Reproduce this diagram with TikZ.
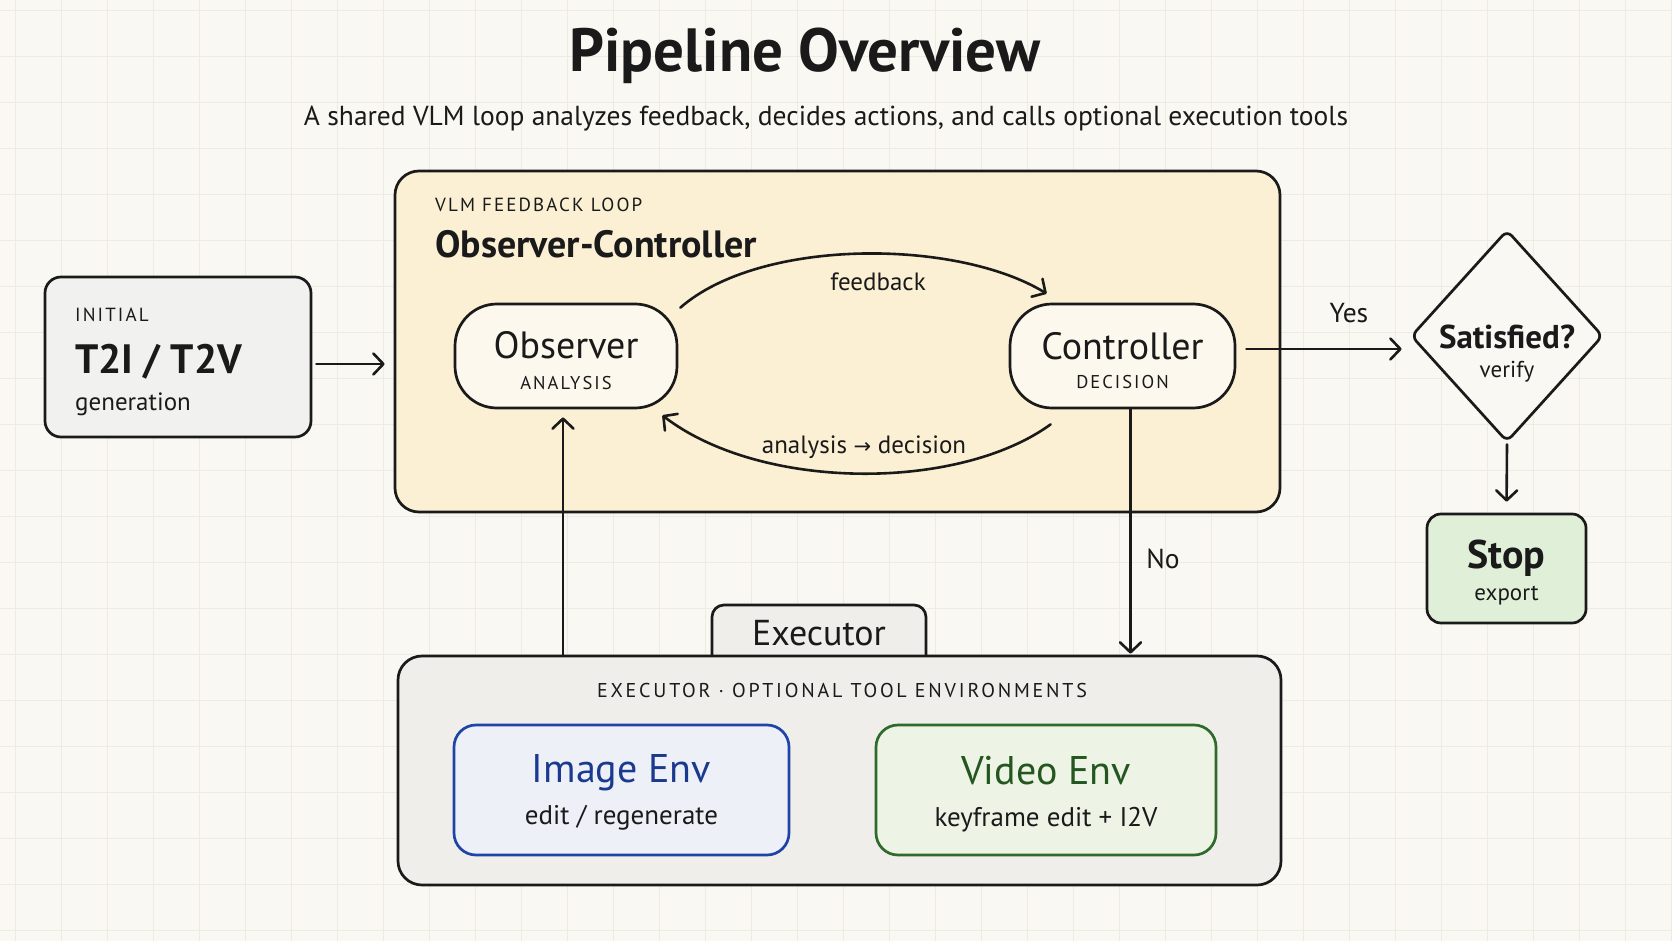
\documentclass[tikz,border=0pt]{standalone}
\usepackage{fontspec}
\setmainfont{PT Sans}
\newfontfamily\symf{DejaVu Sans}
\usetikzlibrary{arrows.meta,shapes.geometric}
\definecolor{bgc}{HTML}{FAF8F2}
\definecolor{gridc}{HTML}{EEEBE3}
\definecolor{ink}{HTML}{1A1A1A}
\definecolor{yellowf}{HTML}{FBF0D4}
\definecolor{greyf}{HTML}{EFEEEA}
\definecolor{initf}{HTML}{F1F1EF}
\definecolor{pillf}{HTML}{FCF8EE}
\definecolor{stopf}{HTML}{E0EFD8}
\definecolor{imgf}{HTML}{EDF1F7}
\definecolor{imgd}{HTML}{1E44A8}
\definecolor{imgt}{HTML}{1B3A8F}
\definecolor{vidf}{HTML}{EDF3E5}
\definecolor{vidd}{HTML}{2E6A2C}
\definecolor{vidt}{HTML}{24561F}
\newcommand\fsz[1]{\fontsize{#1}{#1}\selectfont}
\newcommand\spaced[1]{\addfontfeatures{LetterSpace=#1}}
\begin{document}
\begin{tikzpicture}[x=1pt,y=-1pt,
  every node/.style={text=ink},
  box/.style={draw=ink, line width=2.7pt, rounded corners=16pt, inner sep=0pt},
  pill/.style={draw=ink, line width=2.7pt, rounded corners=42pt, fill=pillf, inner sep=0pt},
  arr/.style={draw=ink, line width=2.6pt, line cap=round, -{Straight Barb[length=10pt,width=21pt,line cap=round,line join=round]}},
  txt/.style={inner sep=0pt, anchor=base}
]
\useasboundingbox (0,0) rectangle (1672,941);
\fill[bgc] (0,0) rectangle (1672,941);
\foreach \x in {15,61,...,1672} \draw[gridc, line width=0.7pt] (\x,0) -- (\x,941);
\foreach \y in {10,56,...,941} \draw[gridc, line width=0.7pt] (0,\y) -- (1672,\y);

% title
\node[txt] (title) at (805,72) {\fsz{61}\bfseries Pipeline Overview};
\node[txt] (sub) at (826,126) {\fsz{27.5}A shared VLM loop analyzes feedback, decides actions, and calls optional execution tools};

% loop container
\node[box, fill=yellowf, minimum width=885pt, minimum height=341pt, rounded corners=24pt] (loop) at (837.5,341.5) {};
\node[txt, anchor=base west] (looplbl) at (435,212) {\fsz{19}\spaced{11}VLM FEEDBACK LOOP};
\node[txt, anchor=base west] (loopttl) at (435,258) {\fsz{38}\bfseries Observer-Controller};

% initial
\node[box, fill=initf, minimum width=266pt, minimum height=160pt] (init) at (178,357) {};
\node[txt, anchor=base west] (initl) at (75,321) {\fsz{19}\spaced{11}INITIAL};
\node[txt, anchor=base west] (initt) at (75,373) {\fsz{41}\bfseries T2I / T2V};
\node[txt, anchor=base west] (initg) at (75,410) {\fsz{25}generation};

% observer / controller
\node[pill, minimum width=222pt, minimum height=104pt] (obs) at (566,356) {};
\node[txt] (obst) at (566,358) {\fsz{38}Observer};
\node[txt] (obss) at (566,389) {\fsz{18.5}\spaced{11}ANALYSIS};
\node[pill, minimum width=225pt, minimum height=104pt] (ctl) at (1122.5,356) {};
\node[txt] (ctlt) at (1122.5,359) {\fsz{38}Controller};
\node[txt] (ctls) at (1122.5,388) {\fsz{18.5}\spaced{11}DECISION};

% decision
\node[diamond, draw=ink, line width=2.7pt, fill=bgc, minimum width=192pt, minimum height=212pt, inner sep=0pt, rounded corners=7pt] (sat) at (1507,336) {};
\node[txt] (satt) at (1507,348) {\fsz{33}\bfseries Satisfied?};
\node[txt] (satv) at (1507,377) {\fsz{23}verify};

\node[box, fill=stopf, minimum width=159pt, minimum height=109pt, rounded corners=14pt] (stop) at (1506.5,568.5) {};
\node[txt] (stopt) at (1506.5,568) {\fsz{40}\bfseries Stop};
\node[txt] (stope) at (1506.5,600) {\fsz{23}export};

% executor
\node[box, fill=greyf, minimum width=214pt, minimum height=70pt, rounded corners=12pt] (tab) at (819,640) {};
\node[box, fill=greyf, minimum width=883pt, minimum height=229pt, rounded corners=24pt] (exec) at (839.5,770.5) {};
\node[txt] (tabt) at (819,645) {\fsz{36}Executor};
\node[txt] (execlbl) at (842,697) {\fsz{20}\spaced{14}EXECUTOR · OPTIONAL TOOL ENVIRONMENTS};

\node[box, draw=imgd, fill=imgf, minimum width=335pt, minimum height=130pt, rounded corners=22pt] (img) at (621.5,790) {};
\node[txt] (imgt) at (621.5,782) {\color{imgt}\fsz{40}Image Env};
\node[txt] (imgs) at (621.5,824) {\fsz{27}edit / regenerate};
\node[box, draw=vidd, fill=vidf, minimum width=340pt, minimum height=130pt, rounded corners=22pt] (vid) at (1046,790) {};
\node[txt] (vidtt) at (1046,784) {\color{vidt}\fsz{40}Video Env};
\node[txt] (vids) at (1046,826) {\fsz{27}keyframe edit + I2V};

% connectors
\draw[arr, shorten <=4pt, shorten >=9pt] ([yshift=-7pt]init.east) -- ([yshift=-7pt]init.east -| loop.west);
\draw[arr] ([xshift=2pt,yshift=-5pt]obs.north east) .. controls +(80,-70) and +(-90,-55) .. ([xshift=38pt,yshift=9pt]ctl.north west);
\node[txt] (fb) at (878,290) {\fsz{25}feedback};
\draw[arr] ([xshift=42pt,yshift=-15pt]ctl.south west) .. controls +(-92,67) and +(99,76) .. ([xshift=-16pt,yshift=-6pt]obs.south east);
\node[txt] (ad) at (864,453) {\fsz{25}analysis {\symf\fsz{21}→} decision};

\draw[arr, shorten <=10pt, shorten >=8pt] ([yshift=7pt]ctl.east) -- ([yshift=7pt]ctl.east -| sat.west);
\node[txt] (yes) at (1349,322) {\fsz{27.5}Yes};
\draw[arr, shorten <=1pt, shorten >=11pt] (sat.south) -- (stop.north);

\draw[arr, shorten >=1pt] ([xshift=8pt]ctl.south) -- ([xshift=8pt]ctl.south |- exec.north);
\node[txt] (no) at (1163,568) {\fsz{27.5}No};
\draw[arr, shorten >=8pt] ([xshift=-3pt]obs.south |- exec.north) -- ([xshift=-3pt]obs.south);
\end{tikzpicture}
\end{document}
